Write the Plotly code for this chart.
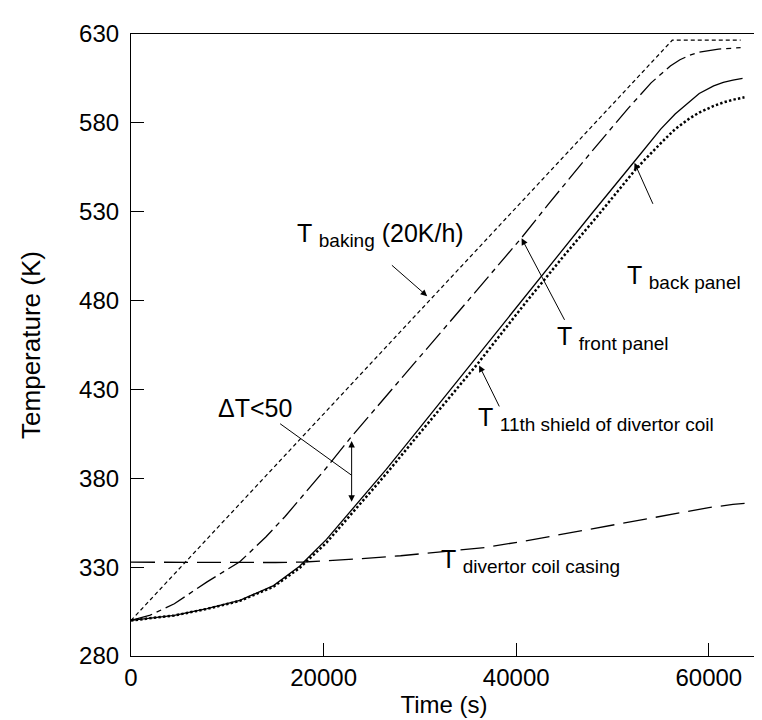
import plotly.graph_objects as go

# ---------------- data ----------------
t_baking = [0, 56200, 63300]
T_baking = [300, 626.5, 626.5]

t_front = [0, 2000, 4500, 7900, 11300, 14000, 16000, 18000, 20000, 22900, 26000,
           30000, 35000, 40500, 43300, 47700, 51600, 54000, 56000, 57000, 58000,
           59000, 61000, 63300]
T_front = [300, 303, 309.4, 321.7, 333, 347, 358.5, 371, 384, 403.5, 423,
           448, 480, 515, 534, 563, 588, 602.5, 612, 615.5, 618,
           619.8, 621.5, 622.3]

t_back = [0, 2500, 4500, 7900, 11300, 14800, 17500, 20300, 22900, 26500, 30000,
          36000, 41000, 47700, 52500, 55000, 56500, 58000, 59000, 60500, 61500,
          62500, 63500]
T_back = [300, 301.5, 302.9, 306.7, 311.3, 319.6, 330.5, 345.6, 362, 385, 408.5,
          449, 483, 528, 559.8, 576.5, 585, 592, 596.5, 600.8, 602.8,
          604, 605]

t_shield = [0, 2500, 4500, 7900, 11300, 14800, 17500, 20300, 22900, 26500, 30000,
            36000, 41000, 45000, 48500, 52500, 55000, 56500, 58000, 59000, 60500,
            61500, 62500, 63700]
T_shield = [300, 301.5, 302.8, 306.5, 311, 319, 329.5, 343.8, 360, 382.5, 405.5,
            444.5, 479, 505.5, 528, 554.5, 568.5, 576.5, 582.5, 585.8, 589.5,
            591.5, 593, 594.4]

t_casing = [0, 5000, 10000, 15000, 18000, 20000, 24000, 28000, 32000, 36700, 41000,
            45500, 50000, 54200, 57000, 60000, 62500, 64500]
T_casing = [332.8, 332.7, 332.6, 332.6, 332.9, 333.5, 334.8, 336.4, 338.4, 341, 344.8,
            349.3, 353.5, 357.6, 360.5, 363.5, 365.3, 366.3]

x_ticks = [0, 20000, 40000, 60000]
y_ticks = [280, 330, 380, 430, 480, 530, 580, 630]

FONT = "Liberation Sans, Arial, sans-serif"

fig = go.Figure()
fig.add_trace(go.Scatter(x=t_baking, y=T_baking, mode="lines", name="T baking",
                         line=dict(color="black", width=1.2, dash="4px,3px")))
fig.add_trace(go.Scatter(x=t_front, y=T_front, mode="lines", name="T front panel",
                         line=dict(color="black", width=1.3, dash="22px,5px,5px,5px")))
fig.add_trace(go.Scatter(x=t_back, y=T_back, mode="lines", name="T back panel",
                         line=dict(color="black", width=1.3)))
fig.add_trace(go.Scatter(x=t_shield, y=T_shield, mode="lines", name="T 11th shield",
                         line=dict(color="black", width=2.5, dash="2.4px,2.2px")))
fig.add_trace(go.Scatter(x=t_casing, y=T_casing, mode="lines", name="T divertor coil casing",
                         line=dict(color="black", width=1.3, dash="24px,9px")))

ann_font = dict(family=FONT, size=25, color="black")
annotations = []


def sub(text):
    return "<sub><span style='font-size:19px'>" + text + "</span></sub>"


def label(x, y, text):
    annotations.append(dict(x=x, y=y, xref="x", yref="y", text=text, showarrow=False,
                            xanchor="left", yanchor="middle", font=ann_font))


def arrow(x0, y0, x1, y1, head=2, side="end"):
    annotations.append(dict(x=x1, y=y1, ax=x0, ay=y0, xref="x", yref="y",
                            axref="x", ayref="y", text="", showarrow=True,
                            arrowhead=head, arrowsize=1.3, arrowwidth=1,
                            arrowcolor="black", arrowside=side, startarrowhead=head,
                            standoff=0, startstandoff=0))


label(17030, 517, "T " + sub("baking") + " (20K/h)")
arrow(26935, 500.6, 30754, 482.5)

label(44066, 459, "T " + sub("front panel"))
arrow(45098, 468.3, 40558, 515)

label(35810, 413.5, "T " + sub("11th shield of divertor coil"))
arrow(38318, 419.6, 36150, 443.5)

label(51300, 493.5, "T " + sub("back panel"))
arrow(54260, 533.6, 52280, 557.5)

label(32000, 333.5, "T " + sub("divertor coil casing"))

label(8875, 419.4, "\u0394T<50")
arrow(15330, 411.3, 22910, 381.7, head=0)
arrow(22910, 366.0, 22910, 401.0, head=2, side="end+start")

# figure reference code at the right edge (rotated, as in the reference)
annotations.append(dict(x=1.0105, y=0.075, xref="paper", yref="paper", text="JG97.357/236",
                        showarrow=False, textangle=-90, xanchor="center", yanchor="middle",
                        borderpad=0,
                        font=dict(family=FONT, size=11, color="black")))

fig.update_layout(
    width=762, height=720,
    margin=dict(l=123, r=13, t=18, b=72),
    paper_bgcolor="white", plot_bgcolor="white",
    showlegend=False,
    font=dict(family=FONT, size=24, color="black"),
    annotations=annotations,
    xaxis=dict(range=[0, 65000], tickvals=x_ticks, tickformat="d",
               ticks="inside", ticklen=13, tickwidth=1, tickcolor="black",
               showline=True, linecolor="black", linewidth=1.2, mirror=True,
               showgrid=False, zeroline=False, ticklabelstandoff=0,
               title=dict(text="Time (s)", standoff=2,
                          font=dict(family=FONT, size=24))),
    yaxis=dict(range=[280, 630], tickvals=y_ticks,
               ticks="inside", ticklen=13, tickwidth=1, tickcolor="black",
               showline=True, linecolor="black", linewidth=1.2, mirror=True,
               showgrid=False, zeroline=False, ticklabelstandoff=6,
               title=dict(text="Temperature (K)", standoff=30,
                          font=dict(family=FONT, size=26))),
)

fig.write_html("out.html")
